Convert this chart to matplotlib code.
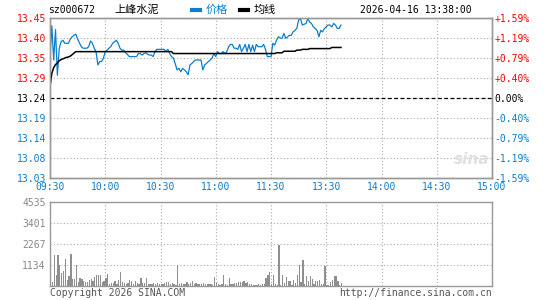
import numpy as np
import matplotlib
matplotlib.use("Agg")
import matplotlib.pyplot as plt
from matplotlib.lines import Line2D

code = "sz000672"
name = "上峰水泥"
stamp = "2026-04-16 13:38:00"
prev_close = 13.24

# one point per trading minute, 09:30 .. 13:38
price = [
    13.348, 13.430, 13.340, 13.420, 13.300, 13.370, 13.388, 13.392, 13.384, 13.384,
    13.384, 13.395, 13.401, 13.405, 13.408, 13.395, 13.385, 13.375, 13.371, 13.371,
    13.371, 13.375, 13.390, 13.384, 13.371, 13.362, 13.327, 13.336, 13.336, 13.345,
    13.362, 13.366, 13.371, 13.375, 13.384, 13.388, 13.392, 13.384, 13.371, 13.366,
    13.366, 13.359, 13.355, 13.349, 13.349, 13.349, 13.349, 13.349, 13.357, 13.357,
    13.353, 13.357, 13.359, 13.355, 13.353, 13.353, 13.349, 13.362, 13.368, 13.368,
    13.368, 13.368, 13.368, 13.362, 13.368, 13.357, 13.349, 13.345, 13.330, 13.314,
    13.318, 13.309, 13.318, 13.314, 13.309, 13.301, 13.327, 13.331, 13.336, 13.340,
    13.340, 13.340, 13.340, 13.314, 13.327, 13.331, 13.336, 13.340, 13.345, 13.357,
    13.349, 13.362, 13.357, 13.357, 13.362, 13.357, 13.362, 13.375, 13.381, 13.381,
    13.371, 13.371, 13.368, 13.381, 13.362, 13.371, 13.381, 13.362, 13.381, 13.362,
    13.379, 13.362, 13.381, 13.375, 13.375, 13.375, 13.381, 13.368, 13.349, 13.349,
    13.349, 13.384, 13.379, 13.392, 13.401, 13.398, 13.397, 13.410, 13.397, 13.401,
    13.405, 13.405, 13.414, 13.418, 13.423, 13.445, 13.449, 13.432, 13.434, 13.436,
    13.449, 13.440, 13.436, 13.427, 13.423, 13.418, 13.401, 13.418, 13.414, 13.423,
    13.427, 13.432, 13.432, 13.427, 13.436, 13.432, 13.423, 13.423, 13.432,
]

avg_line = [
    13.270, 13.305, 13.320, 13.328, 13.332, 13.338, 13.341, 13.343, 13.345, 13.347,
    13.348, 13.350, 13.354, 13.358, 13.362, 13.362, 13.362, 13.362, 13.362, 13.362,
    13.362, 13.362, 13.362, 13.362, 13.362, 13.362, 13.362, 13.362, 13.362, 13.362,
    13.362, 13.362, 13.362, 13.362, 13.362, 13.362, 13.362, 13.362, 13.362, 13.362,
    13.362, 13.362, 13.362, 13.362, 13.362, 13.362, 13.362, 13.362, 13.362, 13.362,
    13.362, 13.362, 13.362, 13.362, 13.362, 13.362, 13.362, 13.362, 13.362, 13.362,
    13.362, 13.362, 13.362, 13.362, 13.362, 13.362, 13.362, 13.357, 13.357, 13.357,
    13.357, 13.357, 13.357, 13.357, 13.357, 13.357, 13.357, 13.357, 13.357, 13.357,
    13.357, 13.357, 13.357, 13.357, 13.357, 13.357, 13.357, 13.357, 13.357, 13.357,
    13.357, 13.357, 13.357, 13.357, 13.357, 13.357, 13.357, 13.357, 13.357, 13.357,
    13.357, 13.357, 13.357, 13.357, 13.357, 13.357, 13.357, 13.357, 13.357, 13.357,
    13.357, 13.357, 13.357, 13.357, 13.357, 13.357, 13.357, 13.357, 13.357, 13.357,
    13.357, 13.357, 13.357, 13.359, 13.359, 13.359, 13.359, 13.363, 13.363, 13.363,
    13.363, 13.363, 13.363, 13.363, 13.366, 13.366, 13.366, 13.368, 13.368, 13.368,
    13.368, 13.370, 13.370, 13.370, 13.370, 13.370, 13.370, 13.370, 13.370, 13.370,
    13.370, 13.370, 13.370, 13.373, 13.373, 13.373, 13.373, 13.373, 13.373,
]

volume = [
    4535, 200, 1650, 610, 1690, 1150, 720, 790, 1440, 300,
    540, 1750, 400, 360, 1150, 220, 450, 400, 250, 220,
    220, 340, 400, 250, 490, 610, 580, 610, 220, 250,
    430, 670, 130, 180, 140, 250, 130, 300, 760, 220,
    180, 110, 150, 310, 250, 120, 290, 150, 100, 430,
    180, 140, 430, 120, 90, 110, 150, 100, 160, 90,
    110, 120, 180, 200, 200, 130, 150, 120, 80, 1120,
    120, 160, 130, 120, 190, 100, 160, 250, 120, 150,
    130, 110, 120, 140, 100, 90, 120, 100, 70, 470,
    140, 100, 80, 110, 610, 120, 80, 440, 100, 90,
    180, 140, 200, 220, 220, 250, 180, 220, 110, 90,
    80, 60, 80, 120, 60, 100, 120, 450, 610, 750,
    100, 600, 100, 80, 2200, 80, 590, 150, 480, 250,
    250, 70, 300, 180, 610, 1150, 200, 1380, 90, 520,
    250, 520, 390, 110, 250, 250, 300, 120, 90, 1060,
    80, 70, 200, 350, 550, 550, 250, 80, 150,
]

time_labels = ["09:30", "10:00", "10:30", "11:00", "11:30",
               "13:30", "14:00", "14:30", "15:00"]
price_labels = ["13.45", "13.40", "13.35", "13.29", "13.24",
                "13.19", "13.14", "13.08", "13.03"]
pct_labels = ["+1.59%", "+1.19%", "+0.79%", "+0.40%", "0.00%",
              "-0.40%", "-0.79%", "-1.19%", "-1.59%"]
vol_labels = ["1134", "2267", "3401", "4535"]

RED = "#ff0000"
BLUE = "#0a7dcc"
GRAY = "#999999"
MONO = "DejaVu Sans Mono"
W, H = 545, 300


def fx(x):
    return x / W


def fy(y):
    return 1 - y / H


fig = plt.figure(figsize=(5.45, 3.0), dpi=100)
fig.patch.set_facecolor("white")

ax = fig.add_axes([fx(50), fy(178), 442 / W, 160 / H])
vax = fig.add_axes([fx(50), fy(286), 442 / W, 84 / H])

minutes = np.arange(len(price))
span = 0.2105
ax.set_xlim(0, 240)
ax.set_ylim(prev_close - span, prev_close + span)

ax.plot(minutes, price, color=BLUE, lw=0.9, zorder=3)
ax.plot(minutes, avg_line, color="black", lw=1.1, zorder=4)
ax.axhline(prev_close, color="black", lw=0.9, ls=(0, (3, 2)), zorder=2)

ticks_y = np.linspace(prev_close - span, prev_close + span, 9)
ax.set_yticks(ticks_y)
ax.set_yticklabels(price_labels[::-1])
ax.set_xticks(np.arange(0, 241, 30))
ax.set_xticklabels(time_labels)
ax.tick_params(length=0, labelsize=7, pad=3)
for t in ax.get_xticklabels():
    t.set_fontfamily(MONO)
    t.set_color(BLUE)
label_colors = [BLUE] * 4 + ["black"] + [RED] * 4
for t, c in zip(ax.get_yticklabels(), label_colors):
    t.set_fontfamily(MONO)
    t.set_color(c)
ax.grid(True, ls=(0, (1, 2)), color="#aaaaaa", lw=0.8)

ax2 = ax.twinx()
ax2.set_ylim(ax.get_ylim())
ax2.set_yticks(ticks_y)
ax2.set_yticklabels(pct_labels[::-1])
ax2.tick_params(length=0, labelsize=7, pad=2)
for t, c in zip(ax2.get_yticklabels(), label_colors):
    t.set_fontfamily(MONO)
    t.set_color(c)

for a in (ax, ax2, vax):
    for s in a.spines.values():
        s.set_color(GRAY)
        s.set_linewidth(1.0)

# volume panel
vax.bar(minutes, volume, width=0.7, align="edge", color="#8f8f8f", lw=0)
vax.set_xlim(0, 240)
vax.set_ylim(0, 4535)
vax.set_yticks([1134, 2267, 3401, 4535])
vax.set_yticklabels(vol_labels)
vax.set_xticks(np.arange(0, 241, 30))
vax.set_xticklabels([])
vax.tick_params(length=0, labelsize=7, pad=3, labelcolor="#888888")
for t in vax.get_yticklabels():
    t.set_fontfamily(MONO)
vax.grid(True, ls=(0, (1, 2)), color="#aaaaaa", lw=0.8)
vax.set_axisbelow(True)

# header
fig.text(fx(48), fy(10), code, fontsize=7, family=MONO, va="center", ha="left")
fig.text(fx(114), fy(10), name, fontsize=8, family=["Noto Sans CJK SC", "DejaVu Sans"],
         va="center", ha="left")
fig.add_artist(Line2D([fx(192), fx(200)], [fy(10), fy(10)], lw=3, color=BLUE))
fig.text(fx(206), fy(10), "价格", fontsize=8, color=BLUE,
         family=["Noto Sans CJK SC", "DejaVu Sans"], va="center", ha="left")
fig.add_artist(Line2D([fx(240), fx(248)], [fy(10), fy(10)], lw=3, color="black"))
fig.text(fx(254), fy(10), "均线", fontsize=8,
         family=["Noto Sans CJK SC", "DejaVu Sans"], va="center", ha="left")
fig.text(fx(472), fy(10), stamp, fontsize=7, family=MONO, va="center", ha="right")

# watermark
fig.text(fx(472), fy(160), "sina", fontsize=11, style="italic", weight="bold",
         color="#e0e0e0", va="center", ha="center")

# footer
fig.text(fx(50), fy(293), "Copyright 2026 SINA.COM", fontsize=7, family=MONO,
         color="#555555", va="center", ha="left")
fig.text(fx(492), fy(293), "http://finance.sina.com.cn", fontsize=7, family=MONO,
         color="#555555", va="center", ha="right")

fig.savefig("out.png", dpi=100)
